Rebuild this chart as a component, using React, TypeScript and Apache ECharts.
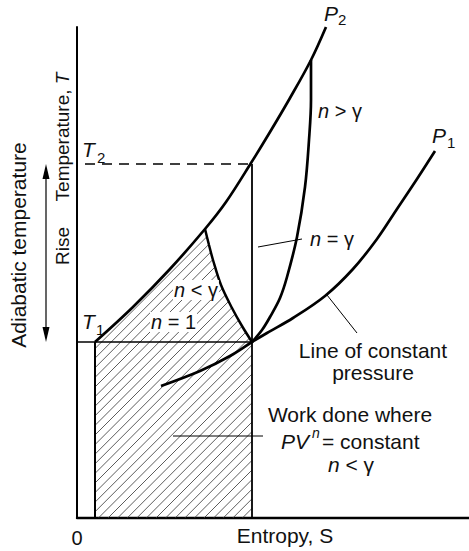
import React, { useEffect, useRef } from "react";
import * as echarts from "echarts";

// Data in chart units (entropy S along x, temperature T along y)
const T1 = 176;
const T2 = 354;
const S_START = 18;
const S_END = 175;

// Constant-pressure line P2 (upper)
const P2_CURVE: number[][] = [
  [18, 176], [56, 211], [93, 249], [128, 289], [149, 316], [174, 355],
  [193, 386], [213, 420], [234, 458], [249, 491],
];
// Constant-pressure line P1 (lower)
const P1_CURVE: number[][] = [
  [84, 132], [123, 147], [153, 162], [175, 176], [190, 185], [216, 200],
  [248, 222], [276, 249], [300, 279], [320, 309], [340, 339], [358, 367],
];
// Polytropic n < γ (between P2 and the end point)
const N_LT_CURVE: number[][] = [
  [128, 289], [132, 273], [136, 258], [144, 233], [155, 210], [165, 192], [175, 176],
];
// Polytropic n > γ
const N_GT_CURVE: number[][] = [
  [175, 176], [185, 188], [193, 201], [203, 220], [210, 241], [220, 281],
  [228, 331], [232, 378], [234, 418], [234, 458],
];
// Helper lines
const T1_LINE: number[][] = [[-40, T1], [S_END, T1]];
const T2_TICK: number[][] = [[-40, T2], [-24, T2]];
const T2_DASH: number[][] = [[8, T2], [S_END, T2]];
const LEFT_WALL: number[][] = [[S_START, 0], [S_START, T1]];
const RIGHT_WALL: number[][] = [[S_END, 0], [S_END, T2]];
const RISE_ARROW: number[][] = [[-31, T1], [-31, T2]];
// Leader lines
const LEADER_N_EQ: number[][] = [[181, 271], [225, 279]];
const LEADER_PRESSURE: number[][] = [[250, 223], [280, 185]];
const LEADER_WORK: number[][] = [[96, 82], [186, 82]];

const X_MAX = 392;
const Y_MAX = 491;

const F = '"Liberation Sans", Arial, Helvetica, sans-serif';

function lineSeries(name: string, data: number[][], width: number, extra: any = {}) {
  return {
    name,
    type: "line",
    data,
    symbol: "none",
    showSymbol: false,
    clip: false,
    silent: true,
    z: 3,
    lineStyle: { color: "#000", width, ...(extra.lineStyle || {}) },
    ...(extra.smooth !== undefined ? { smooth: extra.smooth } : {}),
  };
}

function rich(size: number) {
  return {
    i: { fontStyle: "italic", fontSize: size, fontFamily: F, fill: "#111" },
    r: { fontStyle: "normal", fontSize: size, fontFamily: F, fill: "#111" },
  };
}

function txt(text: string, x: number, y: number, o: any = {}) {
  const size = o.size || 21;
  const style: any = {
    text,
    fontSize: size,
    fontFamily: F,
    fontStyle: o.italic ? "italic" : "normal",
    fill: "#111",
    align: o.align || "left",
    verticalAlign: "middle",
  };
  if (o.rich) style.rich = rich(size);
  if (o.bg) {
    style.backgroundColor = o.bg;
    style.padding = [0, 1];
  }
  return { type: "text", x, y, z: 100, rotation: o.rot || 0, style };
}

export default function App() {
  const ref = useRef<HTMLDivElement>(null);

  useEffect(() => {
    if (!ref.current) return;
    const chart = echarts.init(ref.current, undefined, { renderer: "svg" });

    const hatchPoly: number[][] = [
      [S_START, 0],
      ...P2_CURVE.slice(0, 4),
      ...N_LT_CURVE.slice(1),
      [S_END, 0],
    ];

    const option: any = {
      animation: false,
      backgroundColor: "#fff",
      grid: { left: 77, right: 0, top: 27, bottom: 33, outerBoundsMode: "none" },
      xAxis: {
        type: "value",
        min: 0,
        max: X_MAX,
        interval: X_MAX,
        axisLine: { show: true, onZero: false, lineStyle: { color: "#000", width: 2.4 } },
        axisTick: { show: false },
        splitLine: { show: false },
        axisLabel: {
          show: true,
          margin: 10,
          fontSize: 20,
          fontFamily: F,
          color: "#111",
          formatter: (v: number) => (v === 0 ? "0" : ""),
        },
      },
      yAxis: {
        type: "value",
        min: 0,
        max: Y_MAX,
        axisLine: { show: true, onZero: false, lineStyle: { color: "#000", width: 2 } },
        axisTick: { show: false },
        splitLine: { show: false },
        axisLabel: { show: false },
      },
      series: [
        {
          name: "Work done (hatched)",
          type: "custom",
          silent: true,
          z: 1,
          data: [[0, 0]],
          renderItem: (_p: any, api: any) => {
            const poly = hatchPoly.map((p) => api.coord(p));
            const n = poly.length;
            let minC = Infinity;
            let maxC = -Infinity;
            poly.forEach(([x, y]: number[]) => {
              minC = Math.min(minC, x + y);
              maxC = Math.max(maxC, x + y);
            });
            const spacing = 9.6;
            const children: any[] = [];
            for (let c = Math.ceil(minC / spacing) * spacing + 2; c < maxC; c += spacing) {
              const xs: number[] = [];
              for (let i = 0; i < n; i++) {
                const [x1, y1] = poly[i];
                const [x2, y2] = poly[(i + 1) % n];
                const f1 = x1 + y1 - c;
                const f2 = x2 + y2 - c;
                if (f1 < 0 !== f2 < 0) {
                  const t = f1 / (f1 - f2);
                  xs.push(x1 + t * (x2 - x1));
                }
              }
              xs.sort((a, b) => a - b);
              for (let k = 0; k + 1 < xs.length; k += 2) {
                children.push({
                  type: "line",
                  shape: { x1: xs[k], y1: c - xs[k], x2: xs[k + 1], y2: c - xs[k + 1] },
                  style: { stroke: "#333", lineWidth: 0.8 },
                });
              }
            }
            return { type: "group", children };
          },
        },
        lineSeries("P2", P2_CURVE, 2.7, { smooth: 0.35 }),
        lineSeries("P1", P1_CURVE, 2.7, { smooth: 0.35 }),
        lineSeries("n < γ", N_LT_CURVE, 2.5, { smooth: 0.35 }),
        lineSeries("n > γ", N_GT_CURVE, 2.7, { smooth: 0.35 }),
        lineSeries("Left boundary", LEFT_WALL, 2),
        lineSeries("Right boundary", RIGHT_WALL, 1.8),
        lineSeries("T1", T1_LINE, 1.6),
        lineSeries("T2 tick", T2_TICK, 1.6),
        lineSeries("T2", T2_DASH, 1.6, { lineStyle: { type: [10, 7] } }),
        lineSeries("Leader n = γ", LEADER_N_EQ, 1),
        lineSeries("Leader pressure", LEADER_PRESSURE, 1),
        lineSeries("Leader work", LEADER_WORK, 1),
        {
          name: "Rise",
          type: "custom",
          silent: true,
          clip: false,
          z: 3,
          data: [[0, 0]],
          renderItem: (_p: any, api: any) => {
            const a = api.coord(RISE_ARROW[0]);
            const b = api.coord(RISE_ARROW[1]);
            const head = 15;
            const half = 3.5;
            return {
              type: "group",
              children: [
                {
                  type: "line",
                  shape: { x1: a[0], y1: a[1] - head + 2, x2: b[0], y2: b[1] + head - 2 },
                  style: { stroke: "#000", lineWidth: 1.2 },
                },
                {
                  type: "polygon",
                  shape: { points: [[b[0], b[1]], [b[0] - half, b[1] + head], [b[0] + half, b[1] + head]] },
                  style: { fill: "#000" },
                },
                {
                  type: "polygon",
                  shape: { points: [[a[0], a[1]], [a[0] - half, a[1] - head], [a[0] + half, a[1] - head]] },
                  style: { fill: "#000" },
                },
              ],
            };
          },
        },
      ],
      graphic: {
        elements: [
          txt("T", 82, 149, { italic: true }),
          txt("2", 97, 157, { size: 15 }),
          txt("T", 82, 321, { italic: true }),
          txt("1", 96, 329, { size: 15 }),
          txt("P", 324, 13, { italic: true }),
          txt("2", 338, 19, { size: 15 }),
          txt("P", 432, 135, { italic: true }),
          txt("1", 447, 142, { size: 15 }),
          txt("{i|n}{r| > γ}", 318, 111, { rich: true, size: 20 }),
          txt("{i|n}{r| = γ}", 310, 239, { rich: true, size: 20 }),
          txt("{i|n}{r| < γ}", 173, 290, { rich: true, bg: "#fff", size: 20 }),
          txt("{i|n}{r| = 1}", 150, 322, { rich: true, bg: "#fff", size: 20 }),
          txt("Line of constant", 373, 350, { align: "center" }),
          txt("pressure", 373, 372, { align: "center" }),
          txt("Work done where", 350, 414, { align: "center" }),
          txt("PV", 281, 441, { italic: true }),
          txt("n", 312, 433, { italic: true, size: 14 }),
          txt("= constant", 322, 441),
          txt("{i|n}{r| < γ}", 351, 464, { rich: true, align: "center" }),
          txt("Entropy, S", 285, 535, { align: "center" }),
          txt("Adiabatic temperature", 18, 245, { align: "center", rot: Math.PI / 2 }),
          txt("Rise", 62, 246, { align: "center", rot: Math.PI / 2, size: 19 }),
          txt("{r|Temperature, }{i|T}", 62, 137, { align: "center", rot: Math.PI / 2, size: 19, rich: true }),
        ],
      },
    };

    chart.setOption(option);
    return () => chart.dispose();
  }, []);

  return (
    <div
      ref={ref}
      style={{ position: "fixed", left: 0, top: 0, width: 469, height: 551, background: "#fff" }}
    />
  );
}
